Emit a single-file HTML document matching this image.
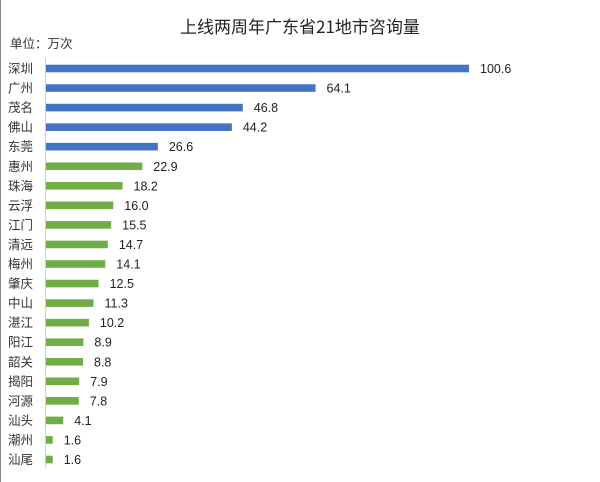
<!DOCTYPE html>
<html><head><meta charset="utf-8"><style>
html,body{margin:0;padding:0;background:#fff;}
svg{display:block;font-family:"Liberation Sans","Noto Sans CJK SC",sans-serif;}
</style></head><body>
<svg width="600" height="482" viewBox="0 0 600 482" xmlns="http://www.w3.org/2000/svg">
<rect x="0" y="0" width="600" height="482" fill="#fff"/>
<line x1="0.5" y1="0" x2="0.5" y2="482" stroke="#888" stroke-width="1"/>
<text x="300" y="33" text-anchor="middle" font-size="17" fill="#222" font-family="'Noto Sans CJK SC','Liberation Sans',sans-serif">上线两周年广东省21地市咨询量</text>
<text x="10" y="48" font-size="12.5" fill="#333" font-family="'Noto Sans CJK SC',sans-serif">单位：万次</text>
<line x1="45.5" y1="58" x2="45.5" y2="468" stroke="#d0d0d0" stroke-width="1"/>
<g id="bars"></g>
</svg>
<script>
const d=[["深圳",100.6],["广州",64.1],["茂名",46.8],["佛山",44.2],["东莞",26.6],["惠州",22.9],["珠海",18.2],["云浮",16.0],["江门",15.5],["清远",14.7],["梅州",14.1],["肇庆",12.5],["中山",11.3],["湛江",10.2],["阳江",8.9],["韶关",8.8],["揭阳",7.9],["河源",7.8],["汕头",4.1],["潮州",1.6],["汕尾",1.6]];
const g=document.getElementById("bars");let h="";
d.forEach((r,i)=>{const cy=68.5+i*19.55;const w=r[1]*4.205;const c=i<5?"#4472C4":"#70AD47";
h+=`<rect x="46" y="${cy-3.8}" width="${w}" height="7.6" fill="${c}"/>`;
h+=`<text x="8" y="${cy+4.5}" font-size="12.5" fill="#333" font-family="'Noto Sans CJK SC',sans-serif">${r[0]}</text>`;
h+=`<text x="${46+w+11}" y="${cy+4.5}" font-size="12.5" fill="#222">${r[1].toFixed(1)}</text>`;});
g.innerHTML=h;
</script>
</body></html>
